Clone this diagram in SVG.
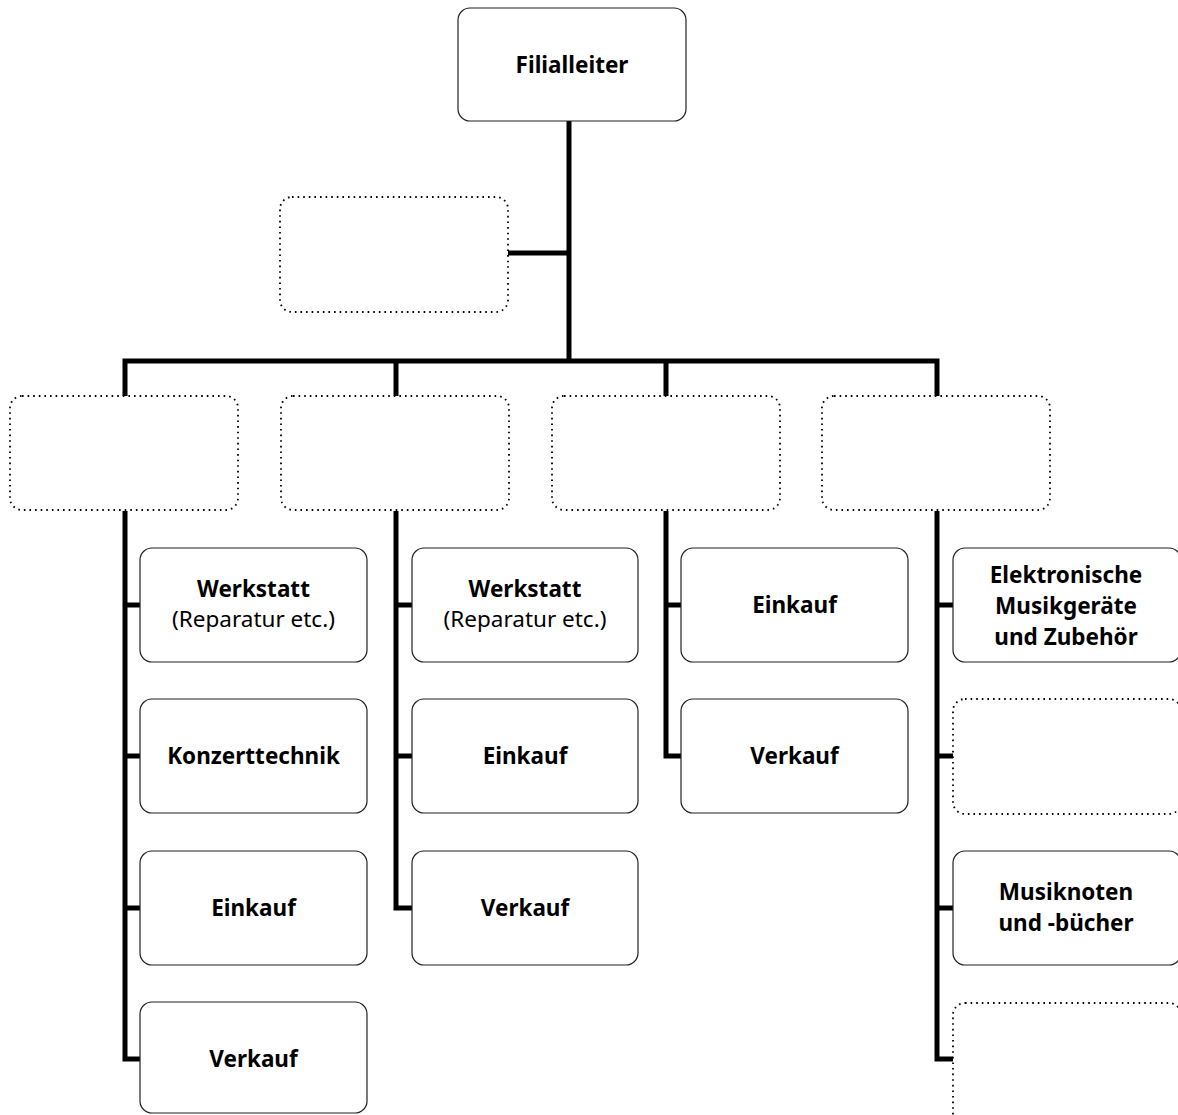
<svg xmlns="http://www.w3.org/2000/svg" width="1178" height="1115" viewBox="0 0 1178 1115">
<style>
.box{fill:#fff;stroke:#222;stroke-width:1.2}
.dot{fill:#fff;stroke:#000;stroke-width:1.8;stroke-dasharray:1.6 4;stroke-linecap:butt}
.c{fill:none;stroke:#000;stroke-width:5;stroke-linejoin:miter;stroke-linecap:butt}
text{font-family:"Noto Sans","Open Sans",sans-serif;font-size:22.5px;fill:#000;text-anchor:middle}
.b{font-weight:bold}
</style>
<rect width="1178" height="1115" fill="#fff"/>
<g id="connectors">
<path class="c" d="M569,121 V361 M508,253 H569 M125,397 V361 H937 V397 M396,361 V397 M666,361 V397"/>
<path class="c" d="M125,511 V1059 H140 M125,605 H140 M125,756 H140 M125,908 H140"/>
<path class="c" d="M396,511 V908 H412 M396,605 H412 M396,756 H412"/>
<path class="c" d="M666,511 V756 H681 M666,605 H681"/>
<path class="c" d="M937,511 V1059 H953 M937,605 H953 M937,756 H953 M937,908 H953"/>
</g>
<g id="n-filialleiter"><rect class="box" x="458" y="8" width="228" height="113" rx="12"/><text class="b" x="572" y="73">Filialleiter</text></g>
<g id="n-stab"><rect class="dot" x="280" y="197" width="228" height="115" rx="12"/></g>
<g id="n-abt1"><rect class="dot" x="10" y="396" width="228" height="114" rx="12"/></g>
<g id="n-abt2"><rect class="dot" x="281" y="396" width="228" height="114" rx="12"/></g>
<g id="n-abt3"><rect class="dot" x="552" y="396" width="228" height="114" rx="12"/></g>
<g id="n-abt4"><rect class="dot" x="822" y="396" width="228" height="114" rx="12"/></g>

<g id="n-c1-werkstatt"><rect class="box" x="140" y="548" width="227" height="114" rx="12"/><text x="253.5" y="597"><tspan class="b">Werkstatt</tspan><tspan x="253.5" dy="30">(Reparatur etc.)</tspan></text></g>
<g id="n-c1-konzert"><rect class="box" x="140" y="699" width="227" height="114" rx="12"/><text class="b" x="253.5" y="764">Konzerttechnik</text></g>
<g id="n-c1-einkauf"><rect class="box" x="140" y="851" width="227" height="114" rx="12"/><text class="b" x="253.5" y="916">Einkauf</text></g>
<g id="n-c1-verkauf"><rect class="box" x="140" y="1002" width="227" height="111" rx="12"/><text class="b" x="253.5" y="1067">Verkauf</text></g>

<g id="n-c2-werkstatt"><rect class="box" x="412" y="548" width="226" height="114" rx="12"/><text x="525" y="597"><tspan class="b">Werkstatt</tspan><tspan x="525" dy="30">(Reparatur etc.)</tspan></text></g>
<g id="n-c2-einkauf"><rect class="box" x="412" y="699" width="226" height="114" rx="12"/><text class="b" x="525" y="764">Einkauf</text></g>
<g id="n-c2-verkauf"><rect class="box" x="412" y="851" width="226" height="114" rx="12"/><text class="b" x="525" y="916">Verkauf</text></g>

<g id="n-c3-einkauf"><rect class="box" x="681" y="548" width="227" height="114" rx="12"/><text class="b" x="794.5" y="613">Einkauf</text></g>
<g id="n-c3-verkauf"><rect class="box" x="681" y="699" width="227" height="114" rx="12"/><text class="b" x="794.5" y="764">Verkauf</text></g>

<g id="n-c4-elektro"><rect class="box" x="953" y="548" width="228" height="114" rx="12"/><text class="b" x="1066" y="583"><tspan>Elektronische</tspan><tspan x="1066" dy="31">Musikgeräte</tspan><tspan x="1066" dy="31">und Zubehör</tspan></text></g>
<g id="n-c4-leer1"><rect class="dot" x="953" y="699" width="228" height="115" rx="12"/></g>
<g id="n-c4-noten"><rect class="box" x="953" y="851" width="228" height="114" rx="12"/><text class="b" x="1066" y="900"><tspan>Musiknoten</tspan><tspan x="1066" dy="31">und -bücher</tspan></text></g>
<g id="n-c4-leer2"><rect class="dot" x="953" y="1003" width="228" height="130" rx="12"/></g>
</svg>
